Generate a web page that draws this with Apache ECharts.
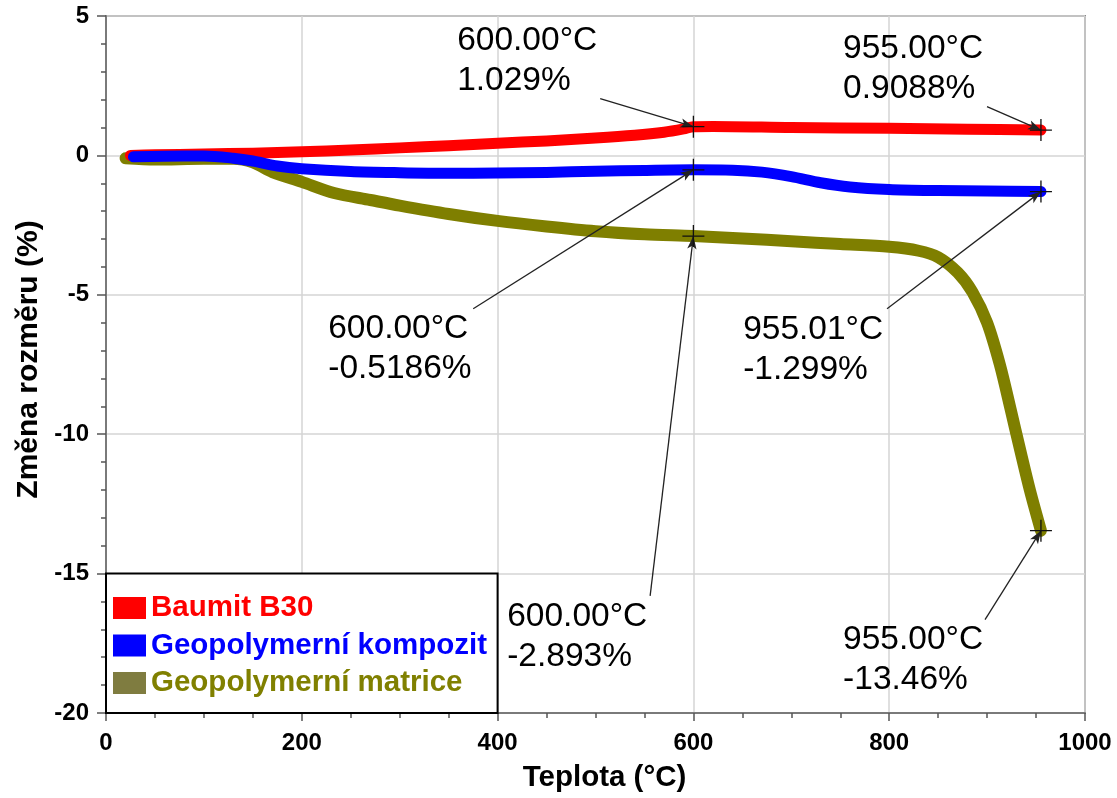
<!DOCTYPE html>
<html>
<head>
<meta charset="utf-8">
<script src="https://cdn.jsdelivr.net/npm/echarts@6/dist/echarts.min.js"></script>
<style>
html,body{margin:0;padding:0;background:#fff;}
#chart{width:1117px;height:798px;}
</style>
</head>
<body>
<div id="chart"></div>
<script>
// ---- Data ----
const seriesNames = ['Baumit B30', 'Geopolymerní kompozit', 'Geopolymerní matrice'];

const b30T = [25, 50, 100, 150, 200, 250, 300, 350, 400, 450, 500, 540, 570, 590, 600, 620, 700, 800, 880, 955];
const b30V = [0.0, 0.02, 0.05, 0.08, 0.13, 0.19, 0.27, 0.35, 0.44, 0.52, 0.62, 0.72, 0.83, 0.95, 1.029, 1.04, 1.0, 0.97, 0.94, 0.9088];

const kompT = [28, 60, 100, 130, 150, 175, 200, 250, 300, 350, 400, 450, 500, 550, 600, 640, 670, 700, 730, 760, 800, 850, 900, 955];
const kompV = [-0.05, -0.03, -0.02, -0.1, -0.2, -0.38, -0.48, -0.58, -0.62, -0.64, -0.63, -0.61, -0.57, -0.54, -0.5186, -0.53, -0.6, -0.76, -0.98, -1.13, -1.22, -1.26, -1.28, -1.299];

const matT = [20, 50, 100, 130, 150, 170, 200, 233, 270, 300, 350, 400, 450, 500, 550, 600, 650, 700, 750, 800, 830, 850, 870, 885, 900, 913, 924, 934, 944, 955];
const matV = [-0.1, -0.15, -0.12, -0.12, -0.25, -0.6, -0.95, -1.35, -1.6, -1.8, -2.1, -2.35, -2.55, -2.72, -2.83, -2.893, -2.98, -3.08, -3.18, -3.28, -3.42, -3.65, -4.2, -4.9, -6.0, -7.5, -9.1, -10.6, -12.05, -13.46];

// annotated points
const annotX = [600, 955, 600, 600, 955.01, 955];
const annotY = [1.029, 0.9088, -0.5186, -2.893, -1.299, -13.46];
const annotText = ['600.00°C\n1.029%', '955.00°C\n0.9088%', '600.00°C\n-0.5186%', '600.00°C\n-2.893%', '955.01°C\n-1.299%', '955.00°C\n-13.46%'];
// annotation text anchor (top-left), data units
const labelX = [358.7, 752.9, 227, 409.8, 650.8, 752.9];
const labelY = [4.84, 4.56, -5.50, -15.83, -5.52, -16.65];
// arrow tail, data units
const arrowX = [504.8, 899.9, 375.1, 555.8, 797.8, 897.9];
const arrowY = [2.04, 1.75, -5.50, -15.80, -5.50, -16.65];

// axis ticks
const xMin = 0, xMax = 1000, xStep = 200;
const yMin = -20, yMax = 5, yStep = 5;
// legend box extent (data units)
const legendBoxX = [0, 400];
const legendBoxY = [-20, -15];

const colors = ['#ff0000', '#0000ff', '#7f7f00'];

const zip = (a, b) => a.map((v, i) => [v, b[i]]);

const FONT = '"Liberation Sans", Arial, sans-serif';
const chart = echarts.init(document.getElementById('chart'));

const plusPath = 'path://M0,9.4 L20,9.4 L20,10.6 L0,10.6 Z M9.4,0 L10.6,0 L10.6,20 L9.4,20 Z';

const option = {
  animation: false,
  backgroundColor: '#fff',
  grid: { left: 106, right: 32, top: 16, bottom: 83, show: true, borderColor: '#8a8a8a', borderWidth: 2, backgroundColor: 'transparent' },
  legend: {
    left: 108, top: 588, orient: 'vertical', itemGap: 7.5,
    icon: 'rect', itemWidth: 33, itemHeight: 22,
    textStyle: { fontFamily: FONT, fontSize: 29.5, fontWeight: 'bold', lineHeight: 30 },
    data: [
      { name: seriesNames[0], textStyle: { color: '#ff0000' } },
      { name: seriesNames[1], textStyle: { color: '#0000ff' } },
      { name: seriesNames[2], textStyle: { color: '#808000' }, itemStyle: { color: '#7f7c40' } }
    ]
  },
  xAxis: {
    type: 'value', min: xMin, max: xMax, interval: xStep,
    name: 'Teplota (°C)', nameLocation: 'middle', nameGap: 50,
    nameTextStyle: { fontFamily: FONT, fontSize: 29.5, fontWeight: 'bold', color: '#000', padding: [0, 0, 0, 18] },
    axisLine: { show: true, onZero: false, lineStyle: { color: '#7a7a7a', width: 2 } },
    axisTick: { show: true, inside: false, length: 8, lineStyle: { color: '#555', width: 1.5 } },
    minorTick: { show: true, splitNumber: 4, length: 5, lineStyle: { color: '#555', width: 1.5 } },
    axisLabel: { fontFamily: FONT, fontSize: 24, fontWeight: 'bold', color: '#000', margin: 18, formatter: v => String(v) },
    splitLine: { show: true, lineStyle: { color: '#d4d4d4', width: 1.5 } }
  },
  yAxis: {
    type: 'value', min: yMin, max: yMax, interval: yStep,
    name: 'Změna rozměru (%)', nameLocation: 'middle', nameGap: 62, nameRotate: 90,
    nameTextStyle: { fontFamily: FONT, fontSize: 30, fontWeight: 'bold', color: '#000', padding: [0, 0, 0, 10] },
    axisLine: { show: true, onZero: false, lineStyle: { color: '#7a7a7a', width: 2 } },
    axisTick: { show: true, inside: false, length: 9, lineStyle: { color: '#555', width: 1.5 } },
    minorTick: { show: true, splitNumber: 5, length: 5, lineStyle: { color: '#555', width: 1.5 } },
    axisLabel: { fontFamily: FONT, fontSize: 24, fontWeight: 'bold', color: '#000', margin: 17, formatter: v => String(v) },
    splitLine: { show: true, lineStyle: { color: '#d4d4d4', width: 1.5 } }
  },
  series: [
    {
      name: seriesNames[2], type: 'line', data: zip(matT, matV), z: 2,
      showSymbol: false, smooth: 0.3, color: colors[2],
      lineStyle: { width: 12, color: colors[2], cap: 'round', join: 'round' }
    },
    {
      name: seriesNames[0], type: 'line', data: zip(b30T, b30V), z: 3,
      showSymbol: false, smooth: 0.3, color: colors[0],
      lineStyle: { width: 11, color: colors[0], cap: 'round', join: 'round' }
    },
    {
      name: seriesNames[1], type: 'line', data: zip(kompT, kompV), z: 4,
      showSymbol: false, smooth: 0.3, color: colors[1],
      lineStyle: { width: 11, color: colors[1], cap: 'round', join: 'round' }
    },
    {
      name: 'legendBox', type: 'scatter', data: [], z: 1, silent: true,
      markArea: {
        silent: true,
        itemStyle: { color: '#ffffff', borderColor: '#000', borderWidth: 2, opacity: 1 },
        data: [[{ coord: [legendBoxX[0], legendBoxY[1]] }, { coord: [legendBoxX[1], legendBoxY[0]] }]]
      }
    },
    {
      name: 'arrows', type: 'scatter', data: [], z: 6, silent: true,
      markLine: {
        silent: true, animation: false,
        symbol: ['none', 'arrow'], symbolSize: [7, 13],
        lineStyle: { color: '#222', width: 1.3, type: 'solid', opacity: 1 },
        label: { show: false },
        data: annotX.map((x, i) => [{ coord: [arrowX[i], arrowY[i]] }, { coord: [x, annotY[i]] }])
      }
    },
    {
      name: 'markers', type: 'scatter', z: 7, silent: true,
      symbol: plusPath, symbolSize: 22,
      itemStyle: { color: '#111', opacity: 1 },
      data: zip(annotX, annotY)
    },
    {
      name: 'labels', type: 'scatter', z: 8, silent: true,
      symbolSize: 0,
      itemStyle: { opacity: 1 },
      data: labelX.map((x, i) => ({ value: [x, labelY[i]], name: annotText[i] })),
      label: {
        show: true, position: [0, 0], align: 'left', verticalAlign: 'top',
        formatter: p => p.name, opacity: 1,
        fontFamily: FONT, fontSize: 33.5, lineHeight: 40, color: '#000'
      }
    }
  ]
};
chart.setOption(option);
</script>
</body>
</html>
